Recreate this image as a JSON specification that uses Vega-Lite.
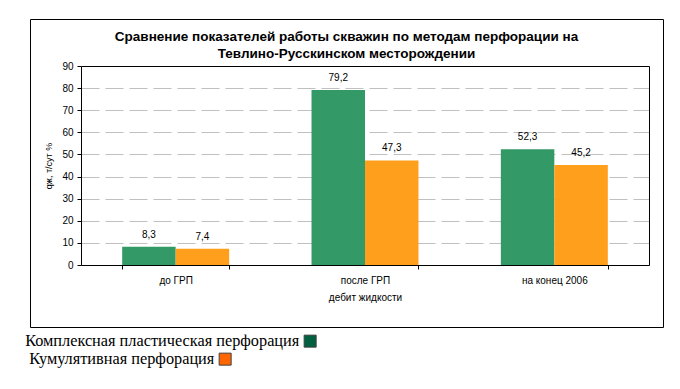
{
  "$schema": "https://vega.github.io/schema/vega-lite/v6.json",
  "width": 633,
  "height": 308,
  "autosize": "none",
  "padding": {"left": 30, "top": 19, "right": 17, "bottom": 62},
  "background": "white",
  "config": {
    "view": {"stroke": "black", "strokeWidth": 1},
    "locale": {"number": {"decimal": ",", "thousands": " ", "grouping": [3], "currency": ["", ""]}},
    "font": "Liberation Sans"
  },
  "title": {
    "text": ["Сравнение показателей работы скважин по методам перфорации на", "Тевлино-Русскинском месторождении"],
    "anchor": "middle",
    "font": "Liberation Sans",
    "fontSize": 13.5,
    "fontWeight": "bold",
    "color": "black",
    "lineHeight": 17,
    "baseline": "top",
    "offset": -13,
    "dy": 28
  },
  "data": {
    "values": [
      {"cat": "до ГРП", "series": "Комплексная пластическая перфорация", "value": 8.3},
      {"cat": "до ГРП", "series": "Кумулятивная перфорация", "value": 7.4},
      {"cat": "после ГРП", "series": "Комплексная пластическая перфорация", "value": 79.2},
      {"cat": "после ГРП", "series": "Кумулятивная перфорация", "value": 47.3},
      {"cat": "на конец 2006", "series": "Комплексная пластическая перфорация", "value": 52.3},
      {"cat": "на конец 2006", "series": "Кумулятивная перфорация", "value": 45.2}
    ]
  },
  "encoding": {
    "x": {
      "field": "cat", "type": "nominal", "sort": null,
      "scale": {"range": [51, 619], "paddingInner": 0.435, "paddingOuter": 0.2175},
      "axis": {
        "orient": "bottom", "offset": -62, "labelAngle": 0,
        "domainColor": "black", "tickColor": "black", "tickSize": 4, "tickBand": "extent",
        "labelFont": "Liberation Sans", "labelFontSize": 10, "labelColor": "black", "labelPadding": 6,
        "title": "дебит жидкости", "titleFont": "Liberation Sans", "titleFontSize": 10,
        "titleFontWeight": "normal", "titleColor": "black", "titlePadding": 7
      }
    },
    "xOffset": {
      "field": "series", "type": "nominal", "sort": null,
      "scale": {"domain": ["Комплексная пластическая перфорация", "Кумулятивная перфорация"]}
    },
    "y": {
      "field": "value", "type": "quantitative",
      "scale": {"domain": [0, 90], "range": [246, 47], "nice": false, "zero": true},
      "axis": {
        "orient": "left", "offset": -51,
        "values": [0, 10, 20, 30, 40, 50, 60, 70, 80, 90],
        "domainColor": "black", "tickColor": "black", "tickSize": 4,
        "labelFont": "Liberation Sans", "labelFontSize": 10, "labelColor": "black", "labelPadding": 4,
        "title": "qж, т/сут %", "titleFont": "Liberation Sans", "titleFontSize": 9,
        "titleFontWeight": "normal", "titleColor": "black", "titlePadding": 8,
        "grid": true,
        "gridColor": {"condition": {"test": "datum.value === 90", "value": "black"}, "value": "#c0c0c0"},
        "gridDash": {"condition": {"test": "datum.value === 90", "value": []}, "value": [18, 6]},
        "gridWidth": 1
      }
    }
  },
  "layer": [
    {
      "mark": {"type": "bar", "opacity": 1},
      "encoding": {
        "color": {
          "field": "series", "type": "nominal",
          "scale": {"domain": ["Комплексная пластическая перфорация", "Кумулятивная перфорация"], "range": ["#339966", "#ff9f1c"]},
          "legend": null
        }
      }
    },
    {
      "mark": {"type": "text", "baseline": "bottom", "dy": -7, "font": "Liberation Sans", "fontSize": 10, "color": "black"},
      "encoding": {
        "y": {
          "field": "value", "type": "quantitative",
          "axis": {"orient": "right", "offset": -14, "domainColor": "black", "labels": false, "ticks": false, "grid": false, "title": null}
        },
        "text": {"field": "value", "type": "quantitative", "format": ".1f"}
      }
    },
    {
      "transform": [{"filter": "false"}],
      "mark": {"type": "square", "filled": true, "opacity": 1, "stroke": "#404040", "strokeWidth": 1},
      "encoding": {
        "y": {"field": "value", "type": "quantitative", "axis": null},
        "color": {
          "field": "series", "type": "nominal",
          "scale": {"domain": ["Комплексная пластическая перфорация"], "range": ["#006040"]},
          "legend": {
            "orient": "none", "legendX": 272, "legendY": 314, "title": null,
            "labelAlign": "right", "labelOffset": -19, "labelLimit": 0,
            "labelFont": "Liberation Serif", "labelFontSize": 16.3, "labelColor": "black",
            "symbolType": "square", "symbolSize": 144, "symbolOpacity": 1,
            "symbolStrokeColor": "#404040", "symbolStrokeWidth": 1
          }
        }
      }
    },
    {
      "transform": [{"filter": "false"}],
      "mark": {"type": "square", "filled": true, "opacity": 1, "stroke": "#404040", "strokeWidth": 1},
      "encoding": {
        "y": {"field": "value", "type": "quantitative", "axis": null},
        "color": {
          "field": "series", "type": "nominal",
          "scale": {"domain": ["Кумулятивная перфорация"], "range": ["#ff6600"]},
          "legend": {
            "orient": "none", "legendX": 187, "legendY": 332, "title": null,
            "labelAlign": "right", "labelOffset": -19, "labelLimit": 0,
            "labelFont": "Liberation Serif", "labelFontSize": 16.3, "labelColor": "black",
            "symbolType": "square", "symbolSize": 144, "symbolOpacity": 1,
            "symbolStrokeColor": "#404040", "symbolStrokeWidth": 1
          }
        }
      }
    }
  ],
  "resolve": {"scale": {"color": "independent"}, "axis": {"y": "independent"}}
}
